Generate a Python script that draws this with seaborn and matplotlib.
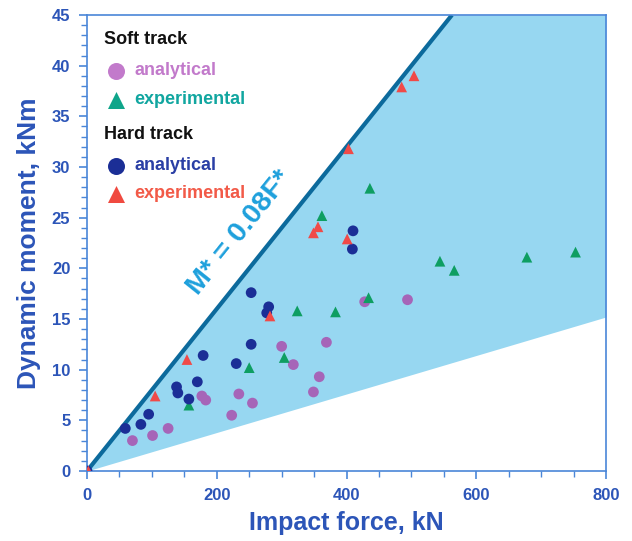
import numpy as np
import pandas as pd
import matplotlib
matplotlib.use("Agg")
import matplotlib.pyplot as plt
import seaborn as sns

# ---- data ----
soft_analytical_F = [70, 101, 125, 177, 183, 223, 234, 255, 300, 318, 349, 358, 369, 428, 494]
soft_analytical_M = [3.0, 3.5, 4.2, 7.4, 7.0, 5.5, 7.6, 6.7, 12.3, 10.5, 7.8, 9.3, 12.7, 16.7, 16.9]

soft_experimental_F = [157, 250, 304, 324, 383, 434, 362, 436, 544, 566, 678, 753]
soft_experimental_M = [6.5, 10.2, 11.2, 15.8, 15.7, 17.1, 25.2, 27.9, 20.7, 19.8, 21.1, 21.6]

hard_analytical_F = [0, 59, 83, 95, 138, 140, 157, 170, 179, 230, 253, 253, 277, 280, 409, 410]
hard_analytical_M = [0.0, 4.2, 4.6, 5.6, 8.3, 7.7, 7.1, 8.8, 11.4, 10.6, 17.6, 12.5, 15.6, 16.2, 21.9, 23.7]

hard_experimental_F = [2, 105, 154, 282, 349, 356, 401, 403, 485, 504]
hard_experimental_M = [0.0, 7.4, 11.0, 15.3, 23.5, 24.1, 22.9, 31.8, 37.9, 39.0]

upper_slope = 0.08
lower_slope = 0.019
line_label = "M* = 0.08F*"
x_label = "Impact force, kN"
y_label = "Dynamic moment, kNm"
x_ticks = [0, 200, 400, 600, 800]
y_ticks = [0, 5, 10, 15, 20, 25, 30, 35, 40, 45]

groups = {
    "Soft analytical": (soft_analytical_F, soft_analytical_M),
    "Soft experimental": (soft_experimental_F, soft_experimental_M),
    "Hard analytical": (hard_analytical_F, hard_analytical_M),
    "Hard experimental": (hard_experimental_F, hard_experimental_M),
}
frames = [pd.DataFrame({"F": f, "M": m, "group": g}) for g, (f, m) in groups.items()]
df = pd.concat(frames, ignore_index=True)

palette = {
    "Soft analytical": "#A665B8",
    "Soft experimental": "#0E9E62",
    "Hard analytical": "#1B2E96",
    "Hard experimental": "#F04A48",
}
markers = {
    "Soft analytical": "o",
    "Soft experimental": "^",
    "Hard analytical": "o",
    "Hard experimental": "^",
}

sns.set_style("white")
plt.rcParams["font.family"] = ["Liberation Sans", "DejaVu Sans"]

fig = plt.figure(figsize=(6.32, 5.41), dpi=100)
ax = fig.add_axes([0.1377, 0.1294, 0.8212, 0.8429])

XMAX, YMAX = 800, 45
xs = np.linspace(0, XMAX, 400)
ax.fill_between(xs, lower_slope * xs, np.minimum(upper_slope * xs, YMAX),
                color="#97D7F1", lw=0, zorder=1)
ax.plot([0, YMAX / upper_slope], [0, YMAX], color="#0C6A9C", lw=3.0,
        zorder=2, solid_capstyle="butt")

sns.scatterplot(data=df, x="F", y="M", hue="group", style="group",
                palette=palette, markers=markers, s=60, linewidth=0,
                legend=False, ax=ax, zorder=3)

ax.text(236, 23.5, line_label, rotation=51.3, rotation_mode="anchor",
        ha="center", va="center", color="#1EA0DC", fontsize=20.5,
        fontweight="bold", zorder=4)

ax.set_xlim(0, XMAX)
ax.set_ylim(0, YMAX)
ax.set_xticks(x_ticks)
ax.set_yticks(y_ticks)
ax.set_xticks(np.arange(0, XMAX + 1, 50), minor=True)
ax.set_yticks(np.arange(0, YMAX + 1, 1), minor=True)

axis_blue = "#2C55B8"
spine_blue = "#4A86D8"
for s in ax.spines.values():
    s.set_color(spine_blue)
    s.set_linewidth(1.2)
ax.tick_params(which="major", direction="out", length=6, width=1.2,
               color=spine_blue, labelsize=12, labelcolor=axis_blue, pad=6,
               bottom=True, left=True)
ax.tick_params(which="minor", direction="out", length=4, width=1.0,
               color=spine_blue, bottom=True, left=True)
for lab in ax.get_xticklabels() + ax.get_yticklabels():
    lab.set_fontweight("bold")

ax.set_xlabel(x_label, fontsize=18, fontweight="bold", color=axis_blue, labelpad=6)
ax.set_ylabel(y_label, fontsize=19, fontweight="bold", color=axis_blue, labelpad=8)

# ---- custom legend ----
tr = ax.transAxes
def ax_xy(px, py):
    # figure pixel -> axes fraction
    x0, x1 = 87, 606
    y0, y1 = 471, 15
    return (px - x0) / (x1 - x0), (y0 - py) / (y0 - y1)

entries = [
    ("header", "Soft track", None, None, "#111111"),
    ("item", "analytical", "o", "#C27ACB", "#C27ACB"),
    ("item", "experimental", "^", "#0FA58A", "#11A6A0"),
    ("header", "Hard track", None, None, "#111111"),
    ("item", "analytical", "o", "#1B2E96", "#2A3FA5"),
    ("item", "experimental", "^", "#F04A40", "#F25A48"),
]
ys = [40, 71, 100, 135, 166, 194]
for (kind, text, mk, mcol, tcol), py in zip(entries, ys):
    if kind == "header":
        x, y = ax_xy(104, py)
        ax.text(x, y, text, transform=tr, fontsize=13, fontweight="bold",
                color=tcol, ha="left", va="center")
    else:
        mx, my = ax_xy(116, py)
        ax.scatter([mx], [my], transform=tr, marker=mk, s=150, color=mcol,
                   linewidth=0, zorder=5, clip_on=False)
        tx, ty = ax_xy(134, py)
        ax.text(tx, ty, text, transform=tr, fontsize=13, fontweight="bold",
                color=tcol, ha="left", va="center")

fig.savefig("out.png", dpi=100, facecolor="white")
